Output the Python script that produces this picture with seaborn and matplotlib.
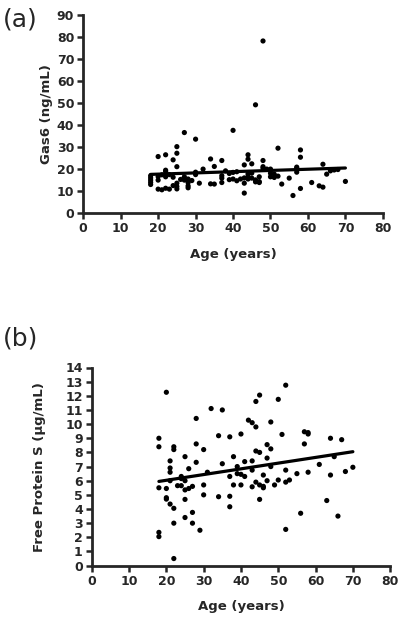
import matplotlib
matplotlib.use('Agg')
import matplotlib.pyplot as plt
import seaborn as sns
import pandas as pd

# panel (a): Gas6 vs age
gas6_age = [18, 18, 18, 18, 18, 20, 20, 20, 20, 21, 21, 22, 22, 22, 22, 22,
            23, 23, 24, 24, 24, 25, 25, 25, 25, 25, 25, 26, 27, 27, 27,
            28, 28, 28, 28, 29, 30, 30, 30, 31, 32, 34, 34, 35, 35,
            37, 37, 37, 37, 38, 39, 39, 40, 40, 40, 41, 41, 42,
            43, 43, 43, 43, 44, 44, 44, 44, 44, 45, 45, 45, 46, 46, 46,
            47, 47, 47, 48, 48, 48, 48, 49, 50, 50, 50, 51, 51, 52, 52,
            53, 55, 56, 57, 57, 57, 58, 58, 58, 61, 63, 64, 64, 65, 66, 67, 68, 70]
gas6_val = [17, 16, 15, 14, 13, 25.7, 16.6, 10.9, 15, 17.4, 10.6, 26.5, 18.9, 19.5, 11.3, 16.5,
            10.9, 17.5, 24.2, 16.3, 12.5, 30.2, 27.2, 21.1, 12.1, 13.6, 11, 15.3, 36.6, 15, 16.5,
            13.9, 12.4, 15.5, 11.5, 14.8, 33.6, 18.6, 17.5, 13.6, 20, 24.6, 13.3, 21.2, 13.2,
            23.9, 15.9, 13.9, 17, 19.2, 15.2, 18, 37.6, 18.5, 15.5, 14.7, 18.8, 15.5,
            21.9, 9.1, 13.6, 16, 26.5, 24.5, 16.5, 15.5, 17.8, 22.4, 15.9, 18.2, 49.2, 15.1, 14.2,
            13.9, 14.3, 16.5, 78.2, 23.9, 20.4, 21.1, 20, 18.1, 20, 16.5, 17.7, 16.2, 29.5, 16.8,
            13.2, 15.9, 8, 20.9, 18.6, 20.3, 28.7, 25.4, 11.2, 13.9, 12.4, 22.2, 11.8, 17.7, 19.2, 19.6, 19.8, 14.4]
gas6_fit_x = [18, 70]
gas6_fit_y = [17.6, 20.5]

# panel (b): free protein S vs age
ps_age = [18, 18, 18, 18, 18, 20, 20, 20, 20, 21, 21, 21, 21, 21, 22, 22, 22, 22, 22,
          23, 24, 24, 24, 25, 25, 25, 25, 25, 26, 26, 27, 27, 27, 28, 28, 28, 29,
          30, 30, 30, 31, 32, 34, 34, 35, 35, 37, 37, 37, 37, 38, 38, 39, 39,
          40, 40, 40, 41, 41, 42, 43, 43, 43, 43, 44, 44, 44, 44, 45, 45, 45, 45,
          46, 46, 46, 47, 47, 47, 48, 48, 48, 49, 50, 50, 51, 52, 52, 52, 52,
          53, 55, 56, 57, 57, 58, 58, 58, 61, 63, 64, 64, 65, 66, 67, 68, 70]
ps_val = [9.0, 8.4, 5.5, 2.35, 2.05, 12.25, 5.45, 4.8, 4.7, 7.4, 6.9, 6.6, 6.0, 4.35, 8.4, 8.2, 4.05, 3.0, 0.5,
          5.65, 6.3, 6.15, 5.65, 7.7, 6.0, 5.35, 4.68, 3.4, 6.85, 5.45, 5.6, 3.76, 3.0, 10.4, 8.6, 7.3, 2.5,
          8.2, 5.7, 5.0, 6.6, 11.1, 9.18, 4.87, 11.0, 7.2, 9.1, 6.3, 4.9, 4.16, 7.7, 5.7, 7.0, 6.5,
          9.3, 5.7, 6.45, 7.35, 6.3, 10.28, 10.1, 7.4, 6.75, 5.57, 11.6, 9.8, 8.1, 5.9, 12.05, 8.0, 5.7, 4.68,
          6.4, 5.6, 5.5, 8.55, 7.6, 6.0, 10.15, 8.25, 7.0, 5.7, 11.75, 6.05, 9.27, 12.75, 6.75, 5.9, 2.56,
          6.05, 6.5, 3.7, 9.46, 8.6, 9.4, 9.3, 6.6, 7.15, 4.6, 9.0, 6.4, 7.7, 3.5, 8.9, 6.65, 6.95]
ps_fit_x = [18, 70]
ps_fit_y = [5.95, 8.05]

sns.set_style('ticks')
plt.rcParams['font.family'] = ['DejaVu Sans']

fig = plt.figure(figsize=(4.06, 6.25), dpi=100)
ax_a = fig.add_axes([0.205, 0.659, 0.738, 0.317])
ax_b = fig.add_axes([0.226, 0.095, 0.735, 0.317])

panels = [
    (ax_a, gas6_age, gas6_val, gas6_fit_x, gas6_fit_y, 'Gas6 (ng/mL)', 90, 10, 3),
    (ax_b, ps_age, ps_val, ps_fit_x, ps_fit_y, 'Free Protein S (\u03bcg/mL)', 14, 1, 14),
]

for ax, xs, ys, fx, fy, ylabel, ymax, ystep, ypad in panels:
    df = pd.DataFrame({'age': xs, 'value': ys})
    fit = pd.DataFrame({'age': fx, 'value': fy})
    sns.scatterplot(data=df, x='age', y='value', ax=ax, color='black', s=14,
                    edgecolor='none', clip_on=False, zorder=3)
    sns.lineplot(data=fit, x='age', y='value', ax=ax, color='black', linewidth=2.3, zorder=4)
    ax.set_xlim(0, 80)
    ax.set_ylim(0, ymax)
    ax.set_xticks(range(0, 81, 10))
    ax.set_yticks(range(0, ymax + 1, ystep))
    sns.despine(ax=ax)
    for side in ['left', 'bottom']:
        ax.spines[side].set_linewidth(2.0)
    ax.tick_params(width=1.8, length=4.5, labelsize=9, pad=2)
    for lbl in ax.get_xticklabels() + ax.get_yticklabels():
        lbl.set_fontweight('bold')
    ax.set_xlabel('Age (years)', fontsize=9.5, fontweight='bold', labelpad=9)
    ax.set_ylabel(ylabel, fontsize=9.5, fontweight='bold', labelpad=ypad)

fig.text(0.008, 0.968, '(a)', fontsize=18, va='center', ha='left')
fig.text(0.008, 0.459, '(b)', fontsize=18, va='center', ha='left')

fig.savefig('out.png', dpi=100)
